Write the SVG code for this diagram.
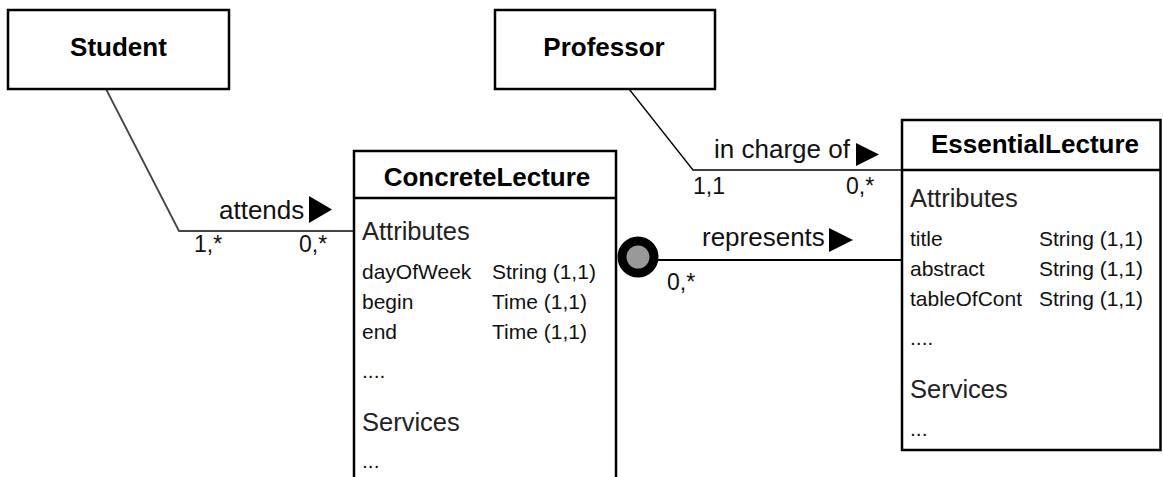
<svg xmlns="http://www.w3.org/2000/svg" width="1163" height="477" viewBox="0 0 1163 477">
  <style>
    .box { fill: #fff; stroke: #000; stroke-width: 2.5; }
    .sep { stroke: #000; stroke-width: 2.5; }
    .title { font-family: "Liberation Sans", Arial, sans-serif; font-weight: bold; font-size: 26px; fill: #000; text-anchor: middle; }
    .sect { font-family: "Liberation Sans", Arial, sans-serif; font-size: 25.5px; fill: #222; }
    .row { font-family: "Liberation Sans", Arial, sans-serif; font-size: 21px; fill: #111; }
    .lbl { font-family: "Liberation Sans", Arial, sans-serif; font-size: 26px; fill: #111; }
    .mult { font-family: "Liberation Sans", Arial, sans-serif; font-size: 23px; fill: #111; }
    .assoc { fill: none; stroke: #000; stroke-width: 1.3; }
    .tri { fill: #000; }
  </style>

  <!-- associations -->
  <g id="connectors">
    <polyline class="assoc" points="106,89 179,231 354,231" style="stroke:#444;stroke-width:1.8"/>
    <polyline class="assoc" points="629,89 693,170 902,170"/>
    <line x1="640" y1="260" x2="902" y2="260" stroke="#000" stroke-width="2.2"/>
    <circle cx="638" cy="257" r="16" fill="#999" stroke="#000" stroke-width="9"/>

    <text class="lbl" x="219" y="219">attends</text>
    <polygon class="tri" points="309,196 332,209.5 309,223"/>
    <text class="mult" x="194" y="252">1,*</text>
    <text class="mult" x="299" y="252">0,*</text>

    <text class="lbl" x="714" y="158">in charge of</text>
    <polygon class="tri" points="856,143 879,154.5 856,166"/>
    <text class="mult" x="693" y="194">1,1</text>
    <text class="mult" x="846" y="194">0,*</text>

    <text class="lbl" x="702" y="246">represents</text>
    <polygon class="tri" points="829,228 853,240 829,252"/>
    <text class="mult" x="667" y="290">0,*</text>
  </g>

  <g id="student">
    <rect class="box" x="8" y="10" width="221" height="79"/>
    <text class="title" x="118.5" y="56">Student</text>
  </g>

  <g id="professor">
    <rect class="box" x="495" y="10" width="220" height="79"/>
    <text class="title" x="604" y="56">Professor</text>
  </g>

  <g id="concrete-lecture">
    <rect class="box" x="354" y="151" width="262" height="340"/>
    <line class="sep" x1="354" y1="198" x2="616" y2="198"/>
    <text class="title" x="487" y="186">ConcreteLecture</text>
    <text class="sect" x="362" y="240">Attributes</text>
    <text class="row" x="362" y="279">dayOfWeek</text>
    <text class="row" x="492" y="279">String (1,1)</text>
    <text class="row" x="362" y="309">begin</text>
    <text class="row" x="492" y="309">Time (1,1)</text>
    <text class="row" x="362" y="339">end</text>
    <text class="row" x="492" y="339">Time (1,1)</text>
    <text class="row" x="362" y="378">....</text>
    <text class="sect" x="362" y="431">Services</text>
    <text class="row" x="362" y="468">...</text>
  </g>

  <g id="essential-lecture">
    <rect class="box" x="902" y="120" width="258.5" height="330"/>
    <line class="sep" x1="902" y1="170" x2="1160.5" y2="170"/>
    <text class="title" x="1035" y="153">EssentialLecture</text>
    <text class="sect" x="910" y="207">Attributes</text>
    <text class="row" x="910" y="246">title</text>
    <text class="row" x="1039" y="246">String (1,1)</text>
    <text class="row" x="910" y="276">abstract</text>
    <text class="row" x="1039" y="276">String (1,1)</text>
    <text class="row" x="910" y="306">tableOfCont</text>
    <text class="row" x="1039" y="306">String (1,1)</text>
    <text class="row" x="910" y="345">....</text>
    <text class="sect" x="910" y="398">Services</text>
    <text class="row" x="910" y="436">...</text>
  </g>
</svg>
